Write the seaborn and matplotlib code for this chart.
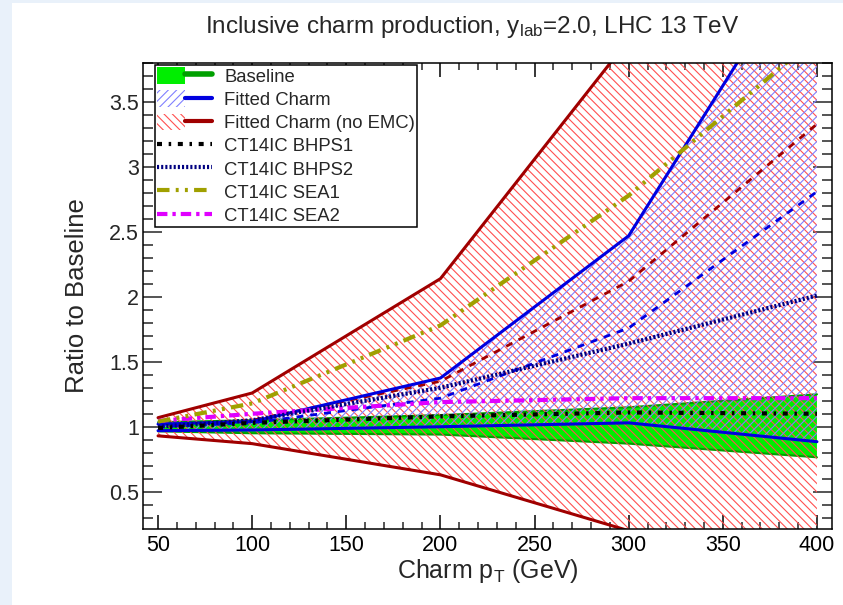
import numpy as np
import pandas as pd
import matplotlib
matplotlib.use("Agg")
import matplotlib.pyplot as plt
import seaborn as sns
from matplotlib.patches import Patch, Rectangle
from matplotlib.lines import Line2D
from matplotlib.legend_handler import HandlerTuple
from matplotlib.ticker import MultipleLocator
from matplotlib import font_manager

# ---- data ----
pt = [50, 100, 200, 300, 400]
base_lo = [0.965, 0.95, 0.94, 0.87, 0.765]
base_hi = [1.035, 1.05, 1.09, 1.15, 1.25]
fc_lo = [0.97, 0.975, 1.0, 1.03, 0.885]
fc_hi = [1.02, 1.04, 1.375, 2.47, 4.78]
fc_cv = [1.0, 1.03, 1.22, 1.76, 2.81]
noemc_lo = [0.93, 0.87, 0.63, 0.20, -0.2]
noemc_hi = [1.07, 1.26, 2.14, 3.98, 6.0]
noemc_cv = [1.0, 1.05, 1.35, 2.12, 3.33]
bhps1 = [0.99, 1.03, 1.08, 1.11, 1.10]
bhps2 = [1.0, 1.05, 1.30, 1.64, 2.01]
sea1 = [1.04, 1.18, 1.78, 2.78, 4.0]
sea2 = [1.045, 1.10, 1.19, 1.22, 1.22]
labels = ["Baseline", "Fitted Charm", "Fitted Charm (no EMC)",
          "CT14IC BHPS1", "CT14IC BHPS2", "CT14IC SEA1", "CT14IC SEA2"]

sns.set_style("ticks")
plt.rcParams['font.family'] = ['Liberation Sans', 'DejaVu Sans']
plt.rcParams['mathtext.fontset'] = 'custom'
plt.rcParams['mathtext.rm'] = 'Liberation Sans'
plt.rcParams['mathtext.it'] = 'Liberation Sans'
plt.rcParams['hatch.linewidth'] = 0.8

names = {f.name for f in font_manager.fontManager.ttflist}
narrow = 'Liberation Sans Narrow' in names

fig = plt.figure(figsize=(8.43, 6.05), dpi=100)
fig.patch.set_facecolor('#e9f1fa')
fig.patches.append(Rectangle((12/843, 0), 1, 1 - 3/605, transform=fig.transFigure,
                             facecolor='white', edgecolor='none', zorder=-10))
ax = fig.add_axes([143/843, 1 - 529/605, 689/843, 466/605])
ax.set_facecolor('none')

df = pd.DataFrame(dict(pt=pt, base_lo=base_lo, base_hi=base_hi, fc_lo=fc_lo, fc_hi=fc_hi,
                       fc_cv=fc_cv, noemc_lo=noemc_lo, noemc_hi=noemc_hi, noemc_cv=noemc_cv,
                       bhps1=bhps1, bhps2=bhps2, sea1=sea1, sea2=sea2))

GREEN = '#00ee00'
DGREEN = '#00a000'
DRED = '#a00000'
BLUE = '#0000e0'

# baseline band
ax.fill_between(df.pt, df.base_lo, df.base_hi, facecolor=GREEN, edgecolor='none', zorder=1)
sns.lineplot(data=df, x='pt', y='base_lo', ax=ax, color=DGREEN, lw=1.5, zorder=2)
sns.lineplot(data=df, x='pt', y='base_hi', ax=ax, color=DGREEN, lw=1.5, zorder=2)

# hatched bands
ax.fill_between(df.pt, df.noemc_lo, df.noemc_hi, facecolor='none', edgecolor='#ff5050',
                linewidth=0, hatch='\\\\\\\\', zorder=3)
ax.fill_between(df.pt, df.fc_lo, df.fc_hi, facecolor='none', edgecolor='#8080ff',
                linewidth=0, hatch='////', zorder=3)

# band edges
sns.lineplot(data=df, x='pt', y='noemc_lo', ax=ax, color=DRED, lw=2.2, zorder=5)
sns.lineplot(data=df, x='pt', y='noemc_hi', ax=ax, color=DRED, lw=2.2, zorder=5)
sns.lineplot(data=df, x='pt', y='fc_lo', ax=ax, color=BLUE, lw=2.2, zorder=6)
sns.lineplot(data=df, x='pt', y='fc_hi', ax=ax, color=BLUE, lw=2.2, zorder=6)
sns.lineplot(data=df, x='pt', y='noemc_cv', ax=ax, color=DRED, lw=2.0,
             linestyle=(0, (2.5, 2.5)), zorder=5)
sns.lineplot(data=df, x='pt', y='fc_cv', ax=ax, color=BLUE, lw=2.0,
             linestyle=(0, (2.5, 2.5)), zorder=5)

# model lines
st_bhps1 = dict(color='black', lw=3.0, linestyle=(0, (1.2, 1.6, 0.6, 1.6)))
st_bhps2 = dict(color='#000080', lw=3.0, linestyle=(0, (0.5, 0.5)))
st_sea1 = dict(color='#a0a000', lw=3.0, linestyle=(0, (3, 1.5, 0.7, 1.5, 0.7, 1.5)))
st_sea2 = dict(color='#e000ff', lw=3.0, linestyle=(0, (2.5, 1.2, 0.8, 1.2)))
sns.lineplot(data=df, x='pt', y='sea2', ax=ax, zorder=7, **st_sea2)
sns.lineplot(data=df, x='pt', y='sea1', ax=ax, zorder=7, **st_sea1)
sns.lineplot(data=df, x='pt', y='bhps2', ax=ax, zorder=7, **st_bhps2)
sns.lineplot(data=df, x='pt', y='bhps1', ax=ax, zorder=7, **st_bhps1)

ax.set_xlim(42, 408)
ax.set_ylim(0.213, 3.8)
ax.xaxis.set_major_locator(MultipleLocator(50))
ax.xaxis.set_minor_locator(MultipleLocator(10))
ax.yaxis.set_major_locator(MultipleLocator(0.5))
ax.yaxis.set_minor_locator(MultipleLocator(0.1))
ax.yaxis.set_major_formatter(matplotlib.ticker.FuncFormatter(lambda v, p: f"{v:g}"))
ax.tick_params(axis='x', which='major', direction='in', length=10, width=1.1, top=True,
               labelsize=15.5, pad=4, colors='black')
ax.tick_params(axis='x', which='minor', direction='in', length=5, width=1.1, top=True)
ax.tick_params(axis='y', which='major', direction='in', length=14, width=1.1, right=True,
               labelsize=15.5, pad=3)
ax.tick_params(axis='y', which='minor', direction='in', length=7, width=1.1, right=True)
for s in ax.spines.values():
    s.set_linewidth(1.1)
    s.set_color('black')
    s.set_zorder(10)

ax.set_xlabel(r'Charm p$_\mathregular{T}$ (GeV)', fontsize=18, labelpad=1)
ax.set_ylabel('Ratio to Baseline', fontsize=18.5, labelpad=14)
if narrow:
    fig.text(0.5605, 1 - 33/605, r'Inclusive charm production, y$_\mathregular{lab}$=2.0, LHC 13 TeV',
             ha='center', va='baseline', fontsize=21,
             family=['Liberation Sans Narrow', 'Liberation Sans'])
else:
    fig.text(0.5605, 1 - 33/605, r'Inclusive charm production, y$_\mathregular{lab}$=2.0, LHC 13 TeV',
             ha='center', va='baseline', fontsize=17.5)

# legend
h_base = (Patch(facecolor=GREEN, edgecolor='none'), Line2D([], [], color=DGREEN, lw=4))
h_fc = (Patch(facecolor='none', edgecolor='#8080ff', hatch='////', linewidth=0),
        Line2D([], [], color=BLUE, lw=3))
h_ne = (Patch(facecolor='none', edgecolor='#ff5050', hatch='\\\\\\\\', linewidth=0),
        Line2D([], [], color=DRED, lw=3))
h1 = Line2D([], [], **st_bhps1)
h2 = Line2D([], [], **st_bhps2)
h3 = Line2D([], [], **st_sea1)
h4 = Line2D([], [], **st_sea2)
leg = ax.legend([h_base, h_fc, h_ne, h1, h2, h3, h4], labels,
                handler_map={tuple: HandlerTuple(ndivide=None, pad=0)},
                loc='upper left', bbox_to_anchor=(0.017, 0.996), fontsize=13.3,
                frameon=True, fancybox=False, edgecolor='black', framealpha=1,
                borderpad=0.12, labelspacing=0.25, handlelength=3.0, handleheight=1.0,
                handletextpad=0.65, borderaxespad=0)
leg.get_frame().set_linewidth(1.1)
leg.set_zorder(20)

fig.savefig('out.png', dpi=100)
